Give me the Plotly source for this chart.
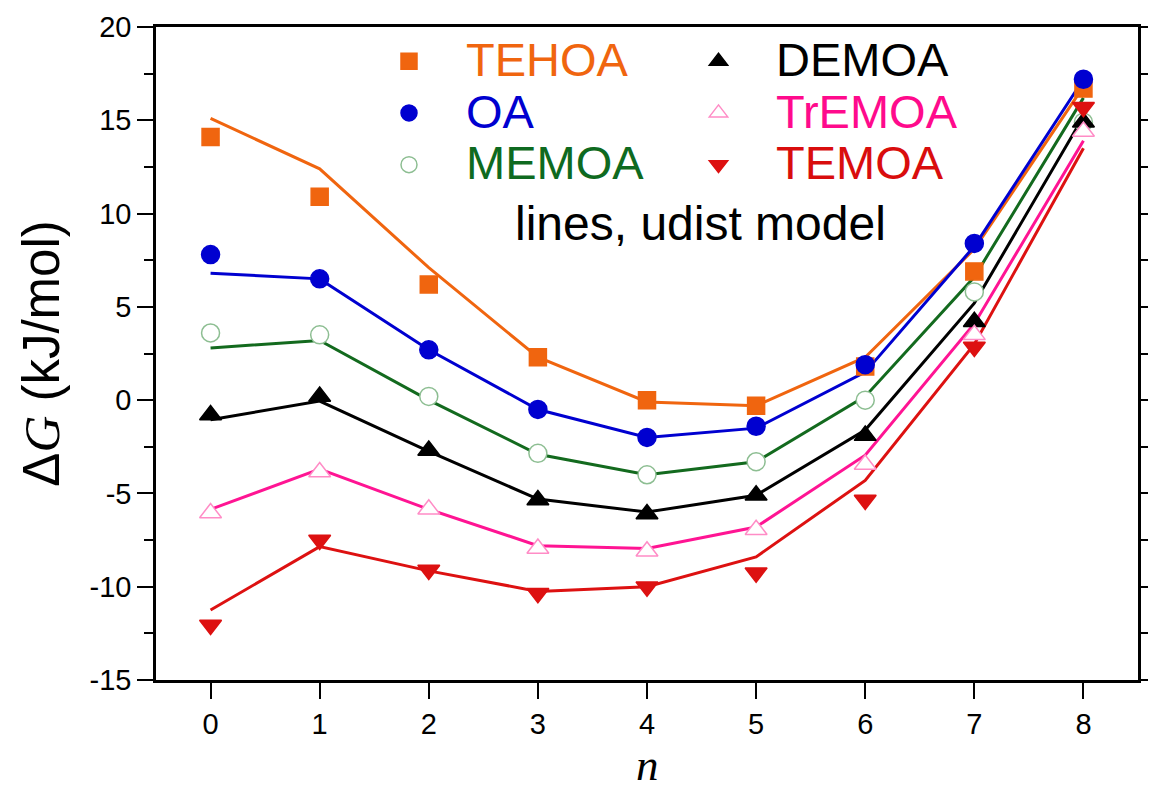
import plotly.graph_objects as go

# number of units n
n = [0, 1, 2, 3, 4, 5, 6, 7, 8]

# measured free energies (kJ/mol)
tehoa_exp = [14.1, 10.9, 6.2, 2.3, 0.0, -0.3, 1.8, 6.9, 16.7]
oa_exp = [7.8, 6.5, 2.7, -0.5, -2.0, -1.4, 1.9, 8.4, 17.2]
memoa_exp = [3.6, 3.5, 0.2, -2.85, -4.0, -3.3, 0.0, 5.8, 14.9]
demoa_exp = [-0.8, 0.2, -2.7, -5.35, -6.1, -5.1, -1.9, 4.2, 14.9]
tremoa_exp = [-6.05, -3.85, -5.85, -7.95, -8.1, -6.95, -3.45, 3.5, 14.4]
temoa_exp = [-12.05, -7.5, -9.1, -10.35, -10.0, -9.25, -5.35, 2.85, 15.7]

# udist model curves (kJ/mol)
tehoa_mod = [15.1, 12.4, 7.1, 2.3, -0.1, -0.3, 2.3, 8.1, 16.8]
oa_mod = [6.8, 6.5, 2.7, -0.5, -2.0, -1.5, 1.5, 8.25, 17.2]
memoa_mod = [2.8, 3.2, 0.0, -2.9, -4.0, -3.3, 0.2, 6.6, 16.2]
demoa_mod = [-1.05, -0.05, -2.75, -5.3, -6.0, -5.1, -1.6, 5.2, 15.2]
tremoa_mod = [-5.85, -3.7, -5.85, -7.8, -7.95, -6.8, -2.95, 4.1, 13.9]
temoa_mod = [-11.25, -7.85, -9.15, -10.25, -10.0, -8.4, -4.3, 3.0, 13.5]

x_ticks = [0, 1, 2, 3, 4, 5, 6, 7, 8]
y_ticks = [-15, -10, -5, 0, 5, 10, 15, 20]

series = [
    # name, exp, model, line colour, text colour, symbol, fill, edge, size, legend
    ("TEHOA", tehoa_exp, tehoa_mod, "#F0650F", "#F0650F", "square", "#F0650F", "#F0650F", 17, "legend"),
    ("OA", oa_exp, oa_mod, "#0000D0", "#0000D0", "circle", "#0000D0", "#0000D0", 18, "legend"),
    ("MEMOA", memoa_exp, memoa_mod, "#136A1E", "#0E6A20", "circle", "white", "#8DBE92", 18, "legend"),
    ("DEMOA", demoa_exp, demoa_mod, "#000000", "#000000", "triangle-up", "#000000", "#000000", 19, "legend2"),
    ("TrEMOA", tremoa_exp, tremoa_mod, "#FF1493", "#FF0A8C", "triangle-up", "white", "#FF8CC6", 19, "legend2"),
    ("TEMOA", temoa_exp, temoa_mod, "#DD1111", "#D90D0D", "triangle-down", "#DD1111", "#DD1111", 19, "legend2"),
]

fig = go.Figure()

# model lines underneath
for name, exp, mod, lc, tc, sym, fill, edge, size, lg in series:
    fig.add_trace(go.Scatter(
        x=n, y=mod, mode="lines", showlegend=False,
        line=dict(color=lc, width=3), hoverinfo="skip",
    ))

# measured points on the overlaid axis so they sit above the lines
for name, exp, mod, lc, tc, sym, fill, edge, size, lg in series:
    fig.add_trace(go.Scatter(
        x=n, y=exp, mode="markers", yaxis="y2", legend=lg,
        name=f'<span style="font-size:47px;color:{tc}">{name}</span>',
        marker=dict(symbol=sym, size=size, color=fill,
                    line=dict(color=edge, width=1.5)),
    ))

tick_font = dict(family="Liberation Sans, Arial, sans-serif", size=29, color="black")

fig.update_layout(
    width=1149, height=791,
    margin=dict(l=156, r=11, t=27, b=111),
    paper_bgcolor="white", plot_bgcolor="white",
    font=dict(family="Liberation Sans, Arial, sans-serif", color="black"),
    xaxis=dict(
        range=[-0.5, 8.5], tickvals=x_ticks, ticktext=[str(v) for v in x_ticks],
        showgrid=False, zeroline=False, automargin=False,
        showline=True, linecolor="black", linewidth=2.5, mirror=True,
        ticks="outside", ticklen=16, tickwidth=2, tickcolor="black",
        tickfont=tick_font,
    ),
    yaxis=dict(
        range=[-15, 20], tickvals=y_ticks, ticktext=[str(v) for v in y_ticks],
        showgrid=False, zeroline=False, automargin=False,
        showline=True, linecolor="black", linewidth=2.5, mirror=True,
        ticks="outside", ticklen=16, tickwidth=2, tickcolor="black",
        minor=dict(dtick=2.5, ticks="outside", ticklen=9, tickwidth=2, tickcolor="black", showgrid=False),
        tickfont=tick_font,
        title=dict(text='Δ<span style="font-family:Liberation Serif"><i>G</i></span> (kJ/mol)',
                   standoff=14,
                   font=dict(family="Liberation Sans, Arial, sans-serif", size=51, color="black")),
    ),
    yaxis2=dict(
        range=[-15, 20], overlaying="y", side="right", matches="y",
        showgrid=False, zeroline=False, showline=False, showticklabels=False,
        automargin=False,
        tick0=0, dtick=2.5, ticks="outside", ticklen=9, tickwidth=2, tickcolor="black",
    ),
    legend=dict(
        x=(352 - 156) / 982, xanchor="left", y=0.995, yanchor="top",
        font=dict(size=37.5), bgcolor="rgba(0,0,0,0)",
        itemsizing="trace", itemwidth=104, tracegroupgap=0,
    ),
    legend2=dict(
        x=(661 - 156) / 982, xanchor="left", y=0.995, yanchor="top",
        font=dict(size=37.5), bgcolor="rgba(0,0,0,0)",
        itemsizing="trace", itemwidth=105, tracegroupgap=0,
    ),
    annotations=[
        dict(
            text="lines, udist model", xref="paper", yref="paper",
            x=(700 - 156) / 982, y=(680 - 224) / 653, xanchor="center", yanchor="middle",
            showarrow=False, font=dict(size=48, color="black"),
        ),
        # x-axis title
        dict(
            text="<i>n</i>", xref="paper", yref="paper",
            x=0.5, y=(680 - 791) / 653, xanchor="center", yanchor="bottom",
            showarrow=False, borderpad=0,
            font=dict(family="Liberation Serif, serif", size=45, color="black"),
        ),
    ],
)

fig.write_html("out.html")
